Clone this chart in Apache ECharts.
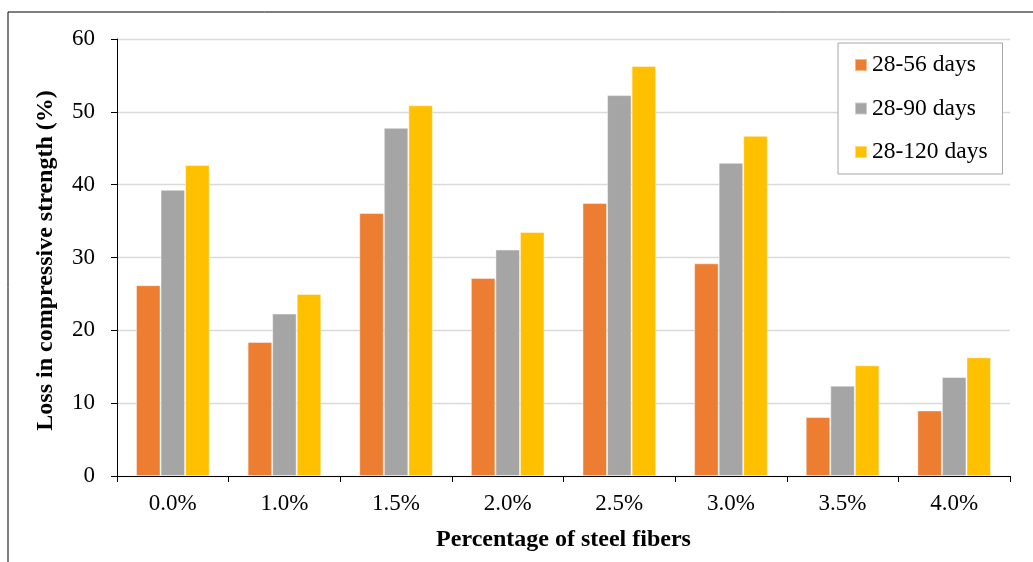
<!DOCTYPE html>
<html>
<head>
<meta charset="utf-8">
<script src="https://cdn.jsdelivr.net/npm/echarts@6/dist/echarts.min.js"></script>
<style>
  html, body { margin: 0; padding: 0; background: #fff; }
  #chart { width: 1033px; height: 562px; }
</style>
</head>
<body>
<div id="chart"></div>
<script>
// Steel fiber content groups
const categories = ['0.0%', '1.0%', '1.5%', '2.0%', '2.5%', '3.0%', '3.5%', '4.0%'];

// Loss in compressive strength (%) for each exposure interval
const loss28to56 = [26.2, 18.4, 36.1, 27.2, 37.5, 29.2, 8.1, 9.0];
const loss28to90 = [39.3, 22.3, 47.8, 31.1, 52.3, 43.0, 12.4, 13.6];
const loss28to120 = [42.7, 25.0, 50.9, 33.5, 56.3, 46.7, 15.2, 16.3];

const seriesNames = ['28-56 days', '28-90 days', '28-120 days'];
const seriesColors = ['#ED7D31', '#A5A5A5', '#FFC000'];

const serif = '"Liberation Serif", "Times New Roman", serif';

const chart = echarts.init(document.getElementById('chart'), null, { renderer: 'canvas' });

function barSeries(name, data, color) {
  return {
    name: name,
    type: 'bar',
    data: data,
    barGap: '0%',
    barCategoryGap: '34%',
    itemStyle: { color: color, borderColor: 'rgba(255,255,255,0.45)', borderWidth: 1 },
    emphasis: { disabled: true }
  };
}

chart.setOption({
  animation: false,
  backgroundColor: '#ffffff',
  graphic: [{
    type: 'rect',
    shape: { x: 8, y: 12, width: 1100, height: 700 },
    style: { fill: 'none', stroke: '#000', lineWidth: 1 },
    silent: true
  }],
  grid: { left: 117, right: 23, top: 39, bottom: 86 },
  legend: {
    orient: 'vertical',
    left: 838,
    top: 43,
    padding: [10, 15, 10, 16],
    itemWidth: 12,
    itemHeight: 12,
    itemGap: 19.5,
    icon: 'rect',
    backgroundColor: '#fff',
    borderColor: '#a6a6a6',
    borderWidth: 1,
    textStyle: { fontFamily: serif, fontSize: 23.5, color: '#000', lineHeight: 24 },
    data: seriesNames
  },
  xAxis: {
    type: 'category',
    data: categories,
    name: 'Percentage of steel fibers',
    nameLocation: 'middle',
    nameGap: 52,
    nameTextStyle: { fontFamily: serif, fontSize: 24, fontWeight: 'bold', color: '#000', verticalAlign: 'top' },
    axisLine: { lineStyle: { color: '#000', width: 1 } },
    axisTick: { show: true, alignWithLabel: false, length: 6, lineStyle: { color: '#000' } },
    axisLabel: { fontFamily: serif, fontSize: 23, color: '#000', margin: 16 }
  },
  yAxis: {
    type: 'value',
    min: 0,
    max: 60,
    interval: 10,
    name: 'Loss in compressive strength (%)',
    nameLocation: 'middle',
    nameRotate: 90,
    nameGap: 59,
    nameTextStyle: { fontFamily: serif, fontSize: 24, fontWeight: 'bold', color: '#000', padding: [0, 6, 0, 0] },
    axisLine: { show: true, lineStyle: { color: '#000', width: 1 } },
    axisTick: { show: true, length: 6, lineStyle: { color: '#000' } },
    axisLabel: { fontFamily: serif, fontSize: 23, color: '#000', margin: 22 },
    splitLine: { show: true, lineStyle: { color: '#d9d9d9', width: 1.3 } }
  },
  series: [
    barSeries(seriesNames[0], loss28to56, seriesColors[0]),
    barSeries(seriesNames[1], loss28to90, seriesColors[1]),
    barSeries(seriesNames[2], loss28to120, seriesColors[2])
  ]
});
</script>
</body>
</html>
